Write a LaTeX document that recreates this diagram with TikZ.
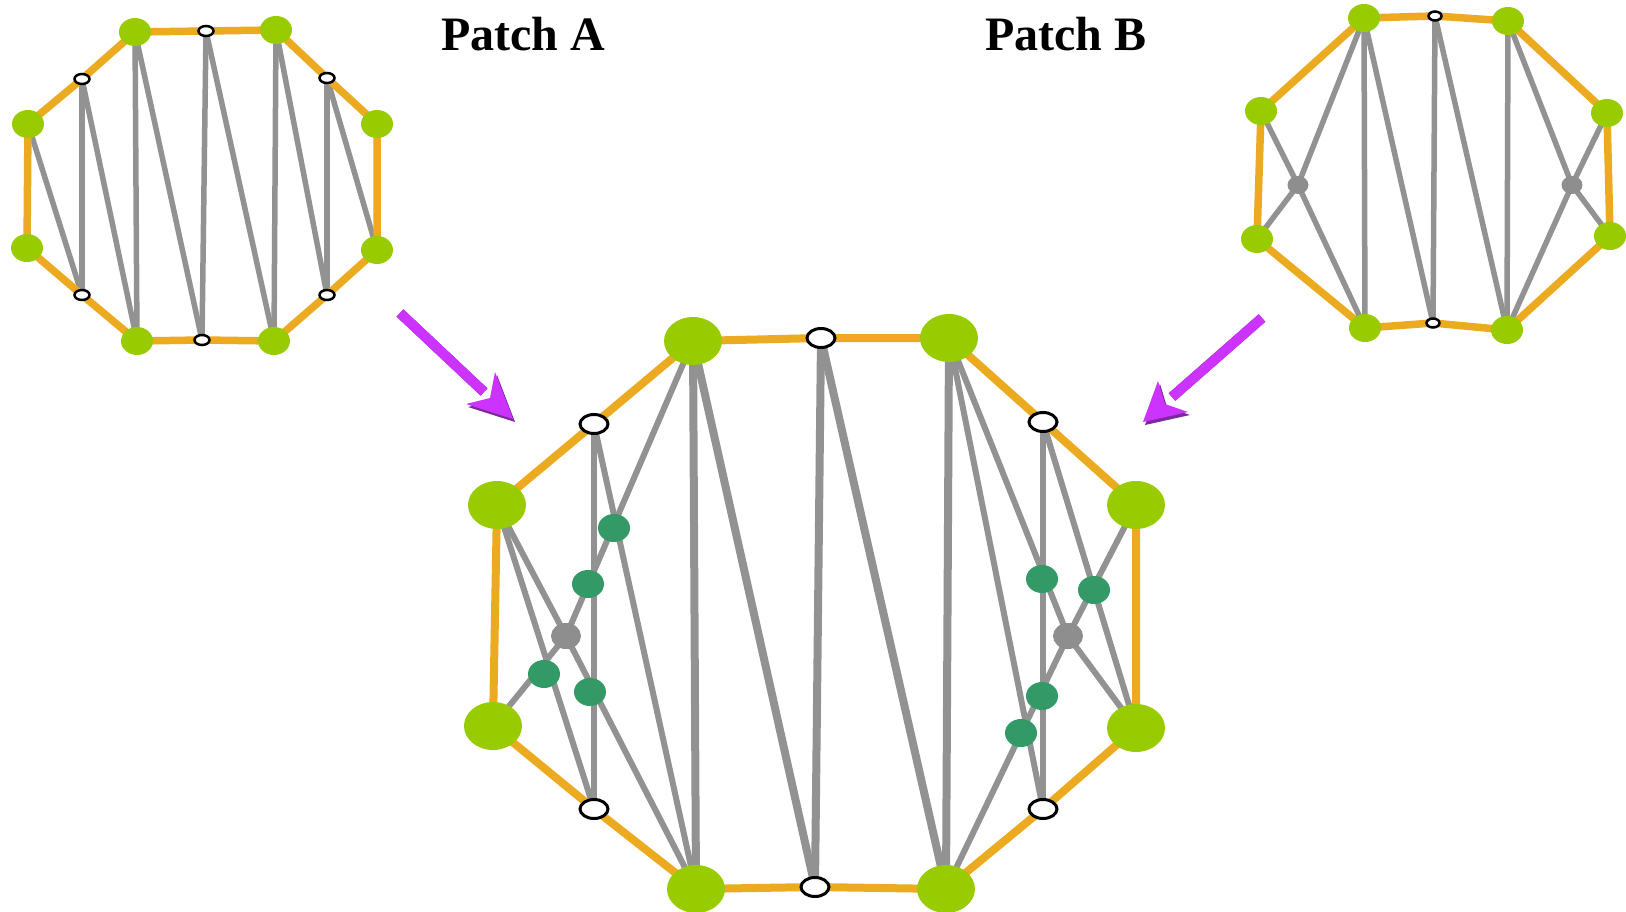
\documentclass[tikz,border=0pt]{standalone}
\usepackage{fontspec}
\setmainfont{Liberation Serif}
\usetikzlibrary{shapes.geometric}
\definecolor{leaf}{HTML}{99CC00}
\definecolor{rim}{HTML}{EBAA1F}
\definecolor{wire}{HTML}{929292}
\definecolor{hub}{HTML}{8E8E8E}
\definecolor{cross}{HTML}{339966}
\definecolor{violet}{HTML}{CC33FF}
\definecolor{violetdark}{HTML}{7A2A9A}
\pgfdeclarelayer{lines}
\pgfsetlayers{lines,main}
\begin{document}
\begin{tikzpicture}[x=1pt,y=-1pt,
  vtx/.style={ellipse,inner sep=0pt,outer sep=0pt},
  leafS/.style={vtx,fill=leaf,minimum width=32pt,minimum height=28pt},
  openS/.style={vtx,fill=white,draw=black,line width=2.5pt,minimum width=15pt,minimum height=10pt},
  openT/.style={vtx,fill=white,draw=black,line width=2.5pt,minimum width=13pt,minimum height=9pt},
  hubS/.style={vtx,fill=hub,minimum width=21pt,minimum height=18pt},
  leafL/.style={vtx,fill=leaf,minimum width=58pt,minimum height=48pt},
  openL/.style={vtx,fill=white,draw=black,line width=3pt,minimum width=28pt,minimum height=19pt},
  hubL/.style={vtx,fill=hub,minimum width=30pt,minimum height=26pt},
  crossdot/.style={vtx,fill=cross,minimum width=32pt,minimum height=28pt},
  rimS/.style={draw=rim,line width=7.5pt,line join=round},
  rimL/.style={draw=rim,line width=8pt,line join=round},
  wireS/.style={draw=wire,line width=5.5pt},
  wireL/.style={draw=wire,line width=6pt},
  wireLL/.style={draw=wire,line width=8pt},
  title/.style={font=\fontsize{48}{52}\selectfont\bfseries,inner sep=0pt},
  shaft/.style={line width=10pt},
]
\useasboundingbox (0,0) rectangle (1626,912);

% ---------- Patch A (top left) ----------
\node[leafS] (a-tl) at (135,32) {};
\node[leafS] (a-tr) at (276,30) {};
\node[leafS] (a-lu) at (28,124) {};
\node[leafS] (a-ll) at (27,248) {};
\node[leafS] (a-bl) at (137,341) {};
\node[leafS] (a-br) at (274,341) {};
\node[leafS] (a-ru) at (377,124) {};
\node[leafS] (a-rl) at (377,250) {};
\node[openS] (a-wt) at (206,31) {};
\node[openS] (a-wb) at (202,340) {};
\node[openS] (a-wul) at (82,79) {};
\node[openS] (a-wll) at (82,295) {};
\node[openS] (a-wur) at (327,78) {};
\node[openS] (a-wlr) at (327,295) {};

% ---------- Patch B (top right) ----------
\node[leafS] (b-tl) at (1364,18) {};
\node[leafS] (b-tr) at (1508,21) {};
\node[leafS] (b-lu) at (1261,111) {};
\node[leafS] (b-ll) at (1257,239) {};
\node[leafS] (b-bl) at (1365,328) {};
\node[leafS] (b-br) at (1507,330) {};
\node[leafS] (b-ru) at (1607,113) {};
\node[leafS] (b-rl) at (1610,236) {};
\node[openT] (b-wt) at (1435,16) {};
\node[openT] (b-wb) at (1433,323) {};
\node[hubS] (b-gl) at (1298,185) {};
\node[hubS] (b-gr) at (1572,185) {};

% ---------- merged patch (bottom) ----------
\node[leafL] (c-tl) at (693,341) {};
\node[leafL] (c-tr) at (949,338) {};
\node[leafL] (c-lu) at (497,505) {};
\node[leafL] (c-ru) at (1136,505) {};
\node[leafL] (c-ll) at (493,726) {};
\node[leafL] (c-rl) at (1136,728) {};
\node[leafL] (c-bl) at (696,889) {};
\node[leafL] (c-br) at (946,889) {};
\node[openL] (c-wt) at (821,338) {};
\node[openL] (c-wb) at (815,887) {};
\node[openL] (c-wul) at (594,424) {};
\node[openL] (c-wur) at (1043,422) {};
\node[openL] (c-wll) at (594,809) {};
\node[openL] (c-wlr) at (1043,809) {};
\node[hubL] (c-gl) at (566,636) {};
\node[hubL] (c-gr) at (1068,636) {};

% crossings of the two triangulations
\node[crossdot] (x1) at (614,528) {};
\node[crossdot] (x2) at (588,584) {};
\node[crossdot] (x3) at (544,674) {};
\node[crossdot] (x4) at (590,692) {};
\node[crossdot] (x5) at (1042,579) {};
\node[crossdot] (x6) at (1094,590) {};
\node[crossdot] (x7) at (1042,696) {};
\node[crossdot] (x8) at (1021,733) {};

\begin{pgfonlayer}{lines}
  % Patch A diagonals
  \foreach \u/\v in {a-lu/a-wll, a-wul/a-wll, a-wul/a-bl, a-tl/a-bl, a-tl/a-wb,
                     a-wt/a-wb, a-wt/a-br, a-tr/a-br, a-tr/a-wlr, a-wur/a-wlr, a-wur/a-rl}
    \draw[wireS] (\u.center) -- (\v.center);
  \draw[rimS] (a-tl.center) -- (a-wt.center) -- (a-tr.center) -- (a-wur.center)
    -- (a-ru.center) -- (a-rl.center) -- (a-wlr.center) -- (a-br.center)
    -- (a-wb.center) -- (a-bl.center) -- (a-wll.center) -- (a-ll.center)
    -- (a-lu.center) -- (a-wul.center) -- cycle;

  % Patch B diagonals
  \foreach \u/\v in {b-gl/b-lu, b-gl/b-ll, b-gl/b-tl, b-gl/b-bl, b-tl/b-bl, b-tl/b-wb,
                     b-wt/b-wb, b-wt/b-br, b-tr/b-br, b-tr/b-gr, b-gr/b-ru, b-gr/b-rl, b-gr/b-br}
    \draw[wireS] (\u.center) -- (\v.center);
  \draw[rimS] (b-tl.center) -- (b-wt.center) -- (b-tr.center) -- (b-ru.center)
    -- (b-rl.center) -- (b-br.center) -- (b-wb.center) -- (b-bl.center)
    -- (b-ll.center) -- (b-lu.center) -- cycle;

  % merged patch
  \foreach \u/\v in {c-lu/c-wll, c-wul/c-wll, c-wul/c-bl, c-tr/c-wlr, c-wur/c-wlr, c-wur/c-rl,
                     c-gl/c-lu, c-gl/c-ll, c-gl/c-tl, c-gl/c-bl,
                     c-tr/c-gr, c-gr/c-ru, c-gr/c-rl, c-gr/c-br}
    \draw[wireL] (\u.center) -- (\v.center);
  \foreach \u/\v in {c-tl/c-bl, c-tl/c-wb, c-wt/c-wb, c-wt/c-br, c-tr/c-br}
    \draw[wireLL] (\u.center) -- (\v.center);
  \draw[rimL] (c-tl.center) -- (c-wt.center) -- (c-tr.center) -- (c-wur.center)
    -- (c-ru.center) -- (c-rl.center) -- (c-wlr.center) -- (c-br.center)
    -- (c-wb.center) -- (c-bl.center) -- (c-wll.center) -- (c-ll.center)
    -- (c-lu.center) -- (c-wul.center) -- cycle;
\end{pgfonlayer}

% titles
\node[title] (ta) at (523,34) {Patch A};
\node[title] (tb) at (1066,34) {Patch B};

% arrows into the merged patch
\coordinate (la0) at (400,313);
\coordinate (la1) at (484,392);
\coordinate (ra0) at (1262,318);
\coordinate (ra1) at (1172,397);
\begin{scope}[shift={(2,3)}]
  \draw[shaft,violetdark] (la0) -- (la1);
  \fill[violetdark] (513,419) -- (495,372) -- (490,398) -- (466,404) -- cycle;
  \draw[shaft,violetdark] (ra0) -- (ra1);
  \fill[violetdark] (1143,422) -- (1158,381) -- (1165,404) -- (1188,412) -- cycle;
\end{scope}
\draw[shaft,violet] (la0) -- (la1);
\fill[violet] (513,419) -- (495,372) -- (490,398) -- (466,404) -- cycle;
\draw[shaft,violet] (ra0) -- (ra1);
\fill[violet] (1143,422) -- (1158,381) -- (1165,404) -- (1188,412) -- cycle;
\end{tikzpicture}
\end{document}
